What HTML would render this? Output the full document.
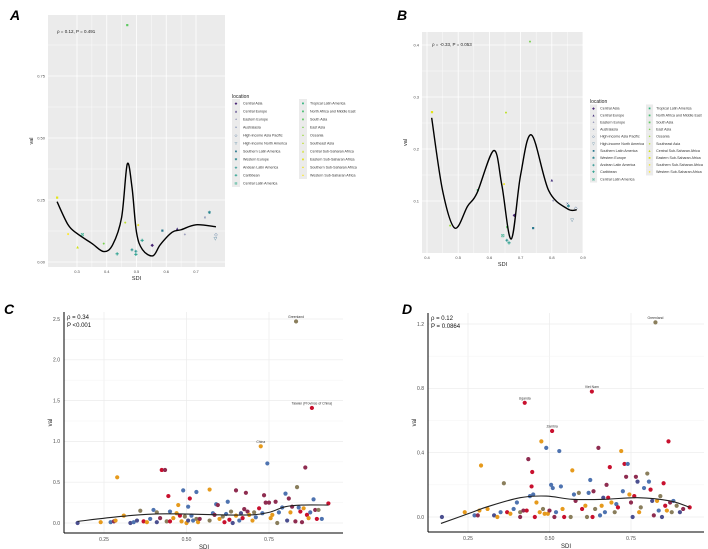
<!DOCTYPE html>
<html><head><meta charset="utf-8"><style>
html,body{margin:0;padding:0;background:#fff;}
svg{display:block;font-family:"Liberation Sans",sans-serif;}
</style></head><body>
<svg id="fig" width="708" height="549" viewBox="0 0 708 549">
<text x="10" y="20" font-size="14" font-weight="bold" font-style="italic">A</text>
<text x="397" y="20" font-size="14" font-weight="bold" font-style="italic">B</text>
<text x="4" y="314" font-size="14" font-weight="bold" font-style="italic">C</text>
<text x="402" y="314" font-size="14" font-weight="bold" font-style="italic">D</text>
<g id="gA"></g>
<g id="gB"></g>
<g id="gC"></g>
<g id="gD"></g>
</svg>
<script>
// ---------- data ----------
const regions = ["Central Asia","Central Europe","Eastern Europe","Australasia","High-income Asia Pacific","High-income North America","Southern Latin America","Western Europe","Andean Latin America","Caribbean","Central Latin America","Tropical Latin America","North Africa and Middle East","South Asia","East Asia","Oceania","Southeast Asia","Central Sub-Saharan Africa","Eastern Sub-Saharan Africa","Southern Sub-Saharan Africa","Western Sub-Saharan Africa"];
const regionColors = ["#482475","#46327e","#414487","#3b528b","#355f8d","#2f6c8e","#2a788e","#25848e","#21918c","#1e9c89","#22a884","#2fb47c","#44bf70","#5ec962","#7ad151","#9bd93c","#bddf26","#d0e11c","#e2e418","#f0e51c","#fde725"];
const regionGlyphs = ["◆","▲","+","×","◇","▽","■","✱","◈","✚","⊠","■","■","■","●","●","●","▲","■","●","●"];

const aSdi = [0.233,0.270,0.302,0.318,0.390,0.435,0.462,0.469,0.485,0.498,0.498,0.506,0.519,0.553,0.587,0.637,0.663,0.730,0.745,0.767,0.765];
const aVal = [0.26,0.113,0.06,0.11,0.075,0.033,0.16,0.955,0.05,0.03,0.045,0.15,0.087,0.068,0.128,0.135,0.11,0.18,0.2,0.11,0.094];
const aReg = [18,20,17,10,14,9,16,13,8,9,8,19,9,0,6,1,2,3,7,4,5];
const aCurveX = [0.233,0.27,0.3,0.35,0.39,0.42,0.45,0.469,0.485,0.5,0.52,0.555,0.58,0.62,0.65,0.7,0.767];
const aCurveY = [0.243,0.15,0.115,0.075,0.042,0.07,0.18,0.395,0.3,0.12,0.05,0.025,0.07,0.12,0.13,0.15,0.142];
const aXTicks = [0.3,0.4,0.5,0.6,0.7];
const aYTicks = [0,0.25,0.5,0.75];

const bSdi = [0.416,0.474,0.563,0.647,0.653,0.73,0.643,0.656,0.663,0.657,0.68,0.74,0.80,0.804,0.85,0.853,0.877,0.865];
const bVal = [0.271,0.053,0.121,0.133,0.27,0.407,0.034,0.025,0.019,0.05,0.073,0.048,0.14,0.1,0.095,0.09,0.087,0.063];
const bReg = [18,15,12,19,16,14,10,8,9,13,0,6,1,2,3,7,4,5];
const bCurveX = [0.415,0.45,0.489,0.53,0.56,0.614,0.64,0.67,0.7,0.735,0.79,0.85,0.88];
const bCurveY = [0.26,0.12,0.048,0.09,0.115,0.197,0.13,0.027,0.15,0.227,0.12,0.085,0.083];
const bXTicks = [0.4,0.5,0.6,0.7,0.8,0.9];
const bYTicks = [0.1,0.2,0.3,0.4];

const cPoints = [[.17,.0,5],[.24,.01,1],[.27,.01,0],[.28,.02,3],[.285,.03,1],[.29,.56,1],[.31,.09,1],[.33,.0,5],[.34,.01,0],[.35,.03,5],[.36,.15,4],[.37,.02,2],[.38,.01,1],[.39,.05,0],[.40,.16,0],[.41,.01,5],[.41,.13,4],[.42,.06,3],[.425,.65,2],[.435,.65,3],[.44,.02,4],[.445,.33,2],[.45,.14,0],[.45,.02,2],[.46,.06,1],[.47,.12,1],[.475,.22,1],[.48,.09,2],[.485,.02,1],[.49,.4,0],[.495,.08,4],[.50,.0,1],[.505,.03,5],[.505,.2,0],[.51,.3,2],[.515,.09,0],[.52,.03,0],[.53,.38,0],[.53,.05,4],[.535,.01,1],[.54,.05,3],[.57,.41,1],[.57,.03,4],[.58,.12,0],[.585,.1,3],[.59,.23,0],[.595,.22,3],[.6,.05,1],[.61,.08,4],[.615,.01,2],[.62,.11,0],[.625,.26,0],[.63,.04,2],[.635,.14,4],[.64,.0,5],[.65,.4,3],[.65,.09,1],[.66,.03,0],[.665,.12,5],[.67,.06,2],[.675,.17,3],[.68,.37,3],[.685,.14,3],[.69,.1,1],[.7,.03,1],[.705,.13,4],[.71,.07,0],[.72,.18,2],[.725,.94,1],[.73,.12,0],[.735,.34,3],[.74,.25,3],[.745,.73,0],[.75,.25,3],[.755,.06,1],[.76,.1,1],[.77,.26,3],[.775,.0,4],[.78,.13,0],[.79,.19,0],[.80,.36,0],[.805,.03,5],[.81,.3,3],[.815,.13,1],[.82,.2,3],[.83,.02,3],[.832,2.47,4],[.835,.44,4],[.84,.19,0],[.845,.14,2],[.85,.01,3],[.855,.18,1],[.86,.68,3],[.865,.1,2],[.87,.06,1],[.875,.13,0],[.88,1.41,2],[.885,.29,0],[.89,.16,3],[.895,.05,2],[.9,.16,4],[.91,.05,0],[.93,.24,2]];
const cLabels = [[.832,2.47,"Greenland"],[.88,1.41,"Taiwan (Province of China)"],[.725,.94,"China"]];
const cCurveX = [0.17,0.3,0.4,0.5,0.6,0.7,0.75,0.8,0.85,0.93];
const cCurveY = [0.02,0.08,0.11,0.11,0.10,0.10,0.13,0.2,0.22,0.22];
const cXTicks = [0.25,0.5,0.75];
const cYTicks = [0,0.5,1,1.5,2,2.5];

const dPoints = [[.17,.0,5],[.24,.03,1],[.27,.01,0],[.28,.01,3],[.285,.04,1],[.29,.32,1],[.31,.05,1],[.33,.01,5],[.34,.0,1],[.35,.03,0],[.36,.21,4],[.37,.03,2],[.38,.02,1],[.39,.05,0],[.40,.09,0],[.41,.0,3],[.41,.03,4],[.42,.04,3],[.424,.71,2],[.43,.04,2],[.435,.36,3],[.44,.13,0],[.445,.19,2],[.447,.28,2],[.45,.14,0],[.455,.0,2],[.46,.09,1],[.47,.03,1],[.475,.47,1],[.48,.05,4],[.485,.02,1],[.49,.43,0],[.495,.02,1],[.50,.04,3],[.505,.2,0],[.508,.535,2],[.51,.18,0],[.515,.0,3],[.52,.03,0],[.53,.41,0],[.535,.19,0],[.54,.05,1],[.545,.0,2],[.565,.0,4],[.57,.29,1],[.575,.14,0],[.58,.1,3],[.59,.15,4],[.6,.05,2],[.61,.07,1],[.615,.0,4],[.62,.15,0],[.625,.23,0],[.63,.78,2],[.632,.0,2],[.635,.16,3],[.64,.05,4],[.65,.43,3],[.655,.01,0],[.66,.07,1],[.665,.12,5],[.67,.03,0],[.675,.2,3],[.68,.12,2],[.685,.31,2],[.69,.09,1],[.70,.03,4],[.705,.08,0],[.71,.06,2],[.72,.41,1],[.725,.16,0],[.73,.33,2],[.735,.25,3],[.74,.33,0],[.745,.14,1],[.75,.09,3],[.755,.0,5],[.76,.13,2],[.765,.25,3],[.77,.22,5],[.775,.03,1],[.78,.06,4],[.79,.18,0],[.80,.27,4],[.805,.22,0],[.81,.17,2],[.815,.1,5],[.82,.01,3],[.825,1.21,4],[.83,.1,1],[.835,.04,0],[.84,.13,4],[.845,.0,5],[.85,.21,2],[.855,.07,2],[.86,.04,1],[.865,.47,2],[.87,.09,3],[.875,.03,4],[.88,.1,0],[.89,.07,4],[.9,.03,5],[.91,.05,3],[.93,.06,2]];
const dLabels = [[.825,1.21,"Greenland"],[.63,.78,"Viet Nam"],[.424,.71,"Uganda"],[.508,.535,"Zambia"]];
const dCurveX = [0.167,0.25,0.31,0.41,0.49,0.57,0.67,0.77,0.87,0.93];
const dCurveY = [-0.04,0.02,0.064,0.12,0.13,0.11,0.11,0.12,0.1,0.06];
const dXTicks = [0.25,0.5,0.75];
const dYTicks = [0,0.4,0.8,1.2];

const cdColors = ["#4e73b0","#e69a1c","#c8102e","#8e2c50","#8a7e5c","#4b4f8f"];

// ---------- helpers ----------
const NS = "http://www.w3.org/2000/svg";
function mk(parent, tag, attrs, text){
  const e = document.createElementNS(NS, tag);
  for (const k in attrs) e.setAttribute(k, attrs[k]);
  if (text !== undefined) e.textContent = text;
  parent.appendChild(e); return e;
}
function lin(d0,d1,r0,r1){ return v => r0 + (v-d0)*(r1-r0)/(d1-d0); }
function smoothPath(xs, ys, sx, sy){
  const p = xs.map((x,i)=>[sx(x), sy(ys[i])]);
  let d = "M"+p[0][0]+","+p[0][1];
  for (let i=0;i<p.length-1;i++){
    const p0=p[Math.max(0,i-1)], p1=p[i], p2=p[i+1], p3=p[Math.min(p.length-1,i+2)];
    const c1=[p1[0]+(p2[0]-p0[0])/6, p1[1]+(p2[1]-p0[1])/6];
    const c2=[p2[0]-(p3[0]-p1[0])/6, p2[1]-(p3[1]-p1[1])/6];
    d += " C"+c1[0]+","+c1[1]+" "+c2[0]+","+c2[1]+" "+p2[0]+","+p2[1];
  }
  return d;
}

// ---------- ggplot grey panels (A, B) ----------
function greyPanel(g, o){
  const sx = lin(o.xd[0],o.xd[1],o.x0,o.x1), sy = lin(o.yd[0],o.yd[1],o.y0,o.y1);
  const bg = mk(g,"rect",{x:o.px0,y:o.py0,width:o.px1-o.px0,height:o.py1-o.py0,fill:"#ebebeb"});
  
  
  const xt=o.xt, yt=o.yt;
  for (let i=0;i<xt.length;i++){
    mk(g,"line",{x1:sx(xt[i]),x2:sx(xt[i]),y1:o.py0,y2:o.py1,stroke:"#fff","stroke-width":0.8});
    if (i<xt.length-1){ const m=(xt[i]+xt[i+1])/2; mk(g,"line",{x1:sx(m),x2:sx(m),y1:o.py0,y2:o.py1,stroke:"#fff","stroke-width":0.4}); }
    const t = mk(g,"text",{x:sx(xt[i]),y:o.py1+6,"font-size":4,fill:"#4d4d4d","text-anchor":"middle"}, String(xt[i]));
    
    
  }
  for (let i=0;i<yt.length;i++){
    mk(g,"line",{x1:o.px0,x2:o.px1,y1:sy(yt[i]),y2:sy(yt[i]),stroke:"#fff","stroke-width":0.8});
    const m=(yt[i]+(yt[i+1]!==undefined?yt[i+1]:yt[i]+ (yt[1]-yt[0])))/2;
    mk(g,"line",{x1:o.px0,x2:o.px1,y1:sy(m),y2:sy(m),stroke:"#fff","stroke-width":0.4});
    const t = mk(g,"text",{x:o.px0-3,y:sy(yt[i])+1.5,"font-size":4,fill:"#4d4d4d","text-anchor":"end"}, o.yfmt(yt[i]));
    
    
  }
  // points
  for (let i=0;i<o.sdi.length;i++){
    const pt = mk(g,"text",{x:sx(o.sdi[i]),y:sy(o.val[i])+1.5,"font-size":4.5,fill:regionColors[o.reg[i]],"text-anchor":"middle"}, regionGlyphs[o.reg[i]]);
    
    
  }
  const cv = mk(g,"path",{d:smoothPath(o.cx,o.cy,sx,sy),fill:"none",stroke:"#000","stroke-width":1.4});
  
  
  const an = mk(g,"text",{x:o.annX,y:o.annY,"font-size":4.5,fill:"#222"}, o.ann);
  
  
  const xl = mk(g,"text",{x:(o.px0+o.px1)/2,y:o.py1+13,"font-size":5.5,fill:"#222","text-anchor":"middle"},"SDI");
  
  
  const yl = mk(g,"text",{x:o.px0-15,y:(o.py0+o.py1)/2,"font-size":5.5,fill:"#222","text-anchor":"middle",transform:"rotate(-90 "+(o.px0-15)+" "+((o.py0+o.py1)/2)+")"},"val");
  
  
  // legend
  const lg = mk(g,"g",{});
  
  
  const lt = mk(lg,"text",{x:o.lx,y:o.ly,"font-size":5,fill:"#222"},"location");
  
  
  for (let i=0;i<regions.length;i++){
    const col = i<11?0:1, row = i<11?i:i-11;
    const kx = o.lx + col*o.colW, ky = o.ly+5 + row*o.rowH;
    mk(lg,"rect",{x:kx,y:ky-o.rowH/2,width:o.rowH,height:o.rowH,fill:"#ebebeb"});
    const gl = mk(lg,"text",{x:kx+o.rowH/2,y:ky+1.3,"font-size":3.6,fill:regionColors[i],"text-anchor":"middle"},regionGlyphs[i]);
    
    
    const tx = mk(lg,"text",{x:kx+o.rowH+3,y:ky+1.3,"font-size":3.6,fill:"#333"},regions[i]);
    
    
  }
}

greyPanel(document.getElementById("gA"),{
  px0:48,px1:225,py0:15,py1:267,
  xd:[0.3,0.7],x0:77,x1:196,yd:[0,0.75],y0:262,y1:76,
  xt:aXTicks,yt:aYTicks,yfmt:v=>v.toFixed(2),
  sdi:aSdi,val:aVal,reg:aReg,cx:aCurveX,cy:aCurveY,
  ann:"ρ = 0.12, P = 0.491",annX:57,annY:33,
  lx:232,ly:98,colW:67,rowH:8
});
greyPanel(document.getElementById("gB"),{
  px0:422,px1:583,py0:32,py1:253,
  xd:[0.4,0.9],x0:427,x1:583,yd:[0.1,0.4],y0:201,y1:45,
  xt:bXTicks,yt:bYTicks,yfmt:v=>v.toFixed(1),
  sdi:bSdi,val:bVal,reg:bReg,cx:bCurveX,cy:bCurveY,
  ann:"ρ = -0.33, P = 0.053",annX:432,annY:46,
  lx:590,ly:103,colW:56,rowH:7.1
});

// ---------- classic panels (C, D) ----------
function classicPanel(g, o){
  const sx = lin(o.xd[0],o.xd[1],o.x0,o.x1), sy = lin(o.yd[0],o.yd[1],o.y0,o.y1);
  const xt=o.xt, yt=o.yt;
  for (let i=0;i<xt.length;i++){
    mk(g,"line",{x1:sx(xt[i]),x2:sx(xt[i]),y1:o.py0,y2:o.py1,stroke:"#ebebeb","stroke-width":0.7});
    const t = mk(g,"text",{x:sx(xt[i]),y:o.py1+8,"font-size":5,fill:"#4d4d4d","text-anchor":"middle"}, xt[i].toFixed(2));
    
    
  }
  for (let i=0;i<yt.length;i++){
    mk(g,"line",{x1:o.px0,x2:o.px1,y1:sy(yt[i]),y2:sy(yt[i]),stroke:"#ebebeb","stroke-width":0.7});
    if (i<yt.length-1) mk(g,"line",{x1:o.px0,x2:o.px1,y1:sy((yt[i]+yt[i+1])/2),y2:sy((yt[i]+yt[i+1])/2),stroke:"#f3f3f3","stroke-width":0.5});
    const t = mk(g,"text",{x:o.px0-4,y:sy(yt[i])+1.8,"font-size":5,fill:"#4d4d4d","text-anchor":"end"}, yt[i].toFixed(1));
    
    
  }
  mk(g,"line",{x1:o.px0,x2:o.px0,y1:o.py0,y2:o.py1,stroke:"#000","stroke-width":1});
  mk(g,"line",{x1:o.px0,x2:o.px1,y1:o.py1,y2:o.py1,stroke:"#000","stroke-width":1});
  for (const p of o.pts){
    const c = mk(g,"circle",{cx:sx(p[0]),cy:sy(p[1]),r:2.1,fill:cdColors[p[2]]});
    
    
  }
  for (const l of o.labels){
    const t = mk(g,"text",{x:sx(l[0]),y:sy(l[1])-3.5,"font-size":3.4,fill:"#333","text-anchor":"middle"}, l[2]);
    
    
  }
  const cv = mk(g,"path",{d:smoothPath(o.cx,o.cy,sx,sy),fill:"none",stroke:"#222","stroke-width":1.1});
  
  
  const a1 = mk(g,"text",{x:o.px0+3,y:o.py0+7,"font-size":6,fill:"#111"}, o.ann[0]);
  
  
  const a2 = mk(g,"text",{x:o.px0+3,y:o.py0+15,"font-size":6,fill:"#111"}, o.ann[1]);
  
  
  const xl = mk(g,"text",{x:o.xlx,y:o.py1+16,"font-size":6,fill:"#222","text-anchor":"middle"},"SDI");
  
  
  const yx = o.px0-12, yy=(o.py0+o.py1)/2;
  const yl = mk(g,"text",{x:yx,y:yy,"font-size":6,fill:"#222","text-anchor":"middle",transform:"rotate(-90 "+yx+" "+yy+")"},"val");
  
  
}

classicPanel(document.getElementById("gC"),{
  px0:64,px1:343,py0:312,py1:533,
  xd:[0.25,0.75],x0:104,x1:269,yd:[0,2.5],y0:523,y1:319,
  xt:cXTicks,yt:cYTicks,pts:cPoints,labels:cLabels,cx:cCurveX,cy:cCurveY,
  ann:["ρ = 0.34","P <0.001"],xlx:204
});
classicPanel(document.getElementById("gD"),{
  px0:428,px1:704,py0:313,py1:532,
  xd:[0.25,0.75],x0:468,x1:631,yd:[0,1.2],y0:517,y1:324,
  xt:dXTicks,yt:dYTicks,pts:dPoints,labels:dLabels,cx:dCurveX,cy:dCurveY,
  ann:["ρ = 0.12","P = 0.0864"],xlx:566
});
</script>
</body></html>
